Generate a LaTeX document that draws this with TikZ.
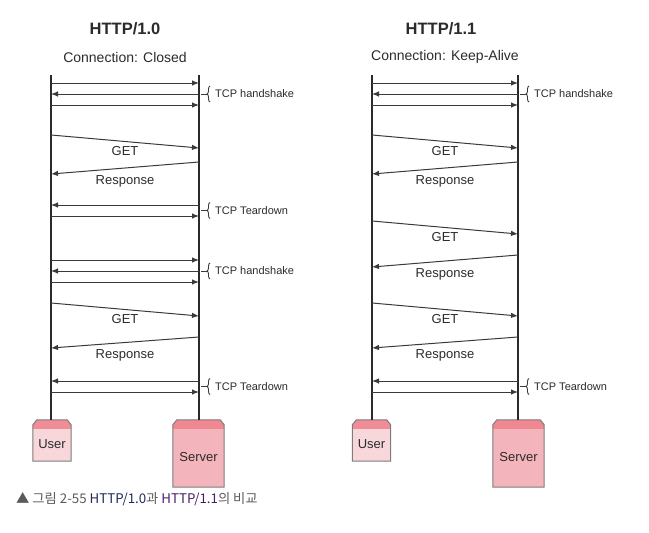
\documentclass[tikz,border=0pt]{standalone}
\usepackage{fontspec}
\setmainfont{Liberation Sans}
\newfontfamily\krfont{Noto Sans CJK KR}
\usetikzlibrary{arrows.meta,decorations.pathreplacing}

\definecolor{lifec}{HTML}{2E2826}
\definecolor{msgc}{HTML}{3A3A3A}
\definecolor{txtc}{HTML}{2B2B2B}
\definecolor{boxline}{HTML}{7C7C7C}
\definecolor{usertop}{HTML}{F08C96}
\definecolor{userbody}{HTML}{F8D7DB}
\definecolor{servtop}{HTML}{F08892}
\definecolor{servbody}{HTML}{F4B4BC}
\definecolor{capgrey}{HTML}{5A5A5A}
\definecolor{capnavy}{HTML}{1F2A5C}
\definecolor{cappurple}{HTML}{4A1D6B}

\tikzset{
  lifeline/.style={lifec,line width=2pt},
  msg/.style={msgc,line width=1pt,-{Latex[length=7pt,width=5.5pt]}},
  lbl/.style={text=txtc,font=\fontsize{13}{13}\selectfont,inner sep=3pt},
  note/.style={text=txtc,font=\fontsize{11}{11}\selectfont,inner sep=1pt,anchor=west},
  tcpbrace/.style={msgc,line width=0.9pt,decorate,decoration={brace,amplitude=3pt}},
  actor/.style={rectangle,inner sep=0pt},
  useractor/.style={actor,minimum width=38pt,minimum height=41pt},
  servactor/.style={actor,minimum width=51pt,minimum height=67pt}
}

\begin{document}
\begin{tikzpicture}[x=1pt,y=-1pt]
\useasboundingbox (0,0) rectangle (649,533);

\node[font=\bfseries\fontsize{16.5}{16.5}\selectfont,text=txtc] (titleA) at (125,29) {HTTP/1.0};
\node[font=\fontsize{14}{14}\selectfont,text=txtc] (connA) at (125,57) {Connection: Closed};
\node[font=\bfseries\fontsize{16.5}{16.5}\selectfont,text=txtc] (titleB) at (441,29) {HTTP/1.1};
\node[font=\fontsize{14}{14}\selectfont,text=txtc] (connB) at (445,57) {Connection: Keep-Alive};

\coordinate (uA) at (51,75);
\coordinate (sA) at (199,75);
\coordinate (uB) at (372,75);
\coordinate (sB) at (518,75);

\node[useractor] (userA) at (52,440.5) {};
\node[servactor] (serverA) at (198.5,453.5) {};
\node[useractor] (userB) at (371.5,440.5) {};
\node[servactor] (serverB) at (518.5,453.5) {};

\foreach \n/\c in {userA/user,serverA/serv,userB/user,serverB/serv} {
  \fill[\c body] (\n.south west) -- ([yshift=-5pt]\n.north west) -- ([xshift=4pt]\n.north west)
    -- ([xshift=-4pt]\n.north east) -- ([yshift=-5pt]\n.north east) -- (\n.south east) -- cycle;
  \fill[\c top] ([yshift=-9pt]\n.north west) -- ([yshift=-5pt]\n.north west) -- ([xshift=4pt]\n.north west)
    -- ([xshift=-4pt]\n.north east) -- ([yshift=-5pt]\n.north east) -- ([yshift=-9pt]\n.north east) -- cycle;
  \draw[boxline,line width=1pt] (\n.south west) -- ([yshift=-5pt]\n.north west) -- ([xshift=4pt]\n.north west)
    -- ([xshift=-4pt]\n.north east) -- ([yshift=-5pt]\n.north east) -- (\n.south east) -- cycle;
}
\node[lbl] (userAtxt) at ([yshift=-3.5pt]userA.center) {User};
\node[lbl] (serverAtxt) at ([yshift=-3.5pt]serverA.center) {Server};
\node[lbl] (userBtxt) at ([yshift=-3.5pt]userB.center) {User};
\node[lbl] (serverBtxt) at ([yshift=-3.5pt]serverB.center) {Server};

\draw[lifeline] (uA) -- (uA |- userA.north);
\draw[lifeline] (sA) -- (sA |- serverA.north);
\draw[lifeline] (uB) -- (uB |- userB.north);
\draw[lifeline] (sB) -- (sB |- serverB.north);

\foreach \y in {83,105,216,260,282,392} \draw[msg] (uA |- 0,\y) -- (sA |- 0,\y);
\foreach \y in {94,205,271,381} \draw[msg] (sA |- 0,\y) -- (uA |- 0,\y);
\foreach \y in {83,105,392} \draw[msg] (uB |- 0,\y) -- (sB |- 0,\y);
\foreach \y in {94,381} \draw[msg] (sB |- 0,\y) -- (uB |- 0,\y);

\draw[msg] (uA |- 0,135) -- (sA |- 0,148) node[lbl,midway,below=1pt] {GET};
\draw[msg] (sA |- 0,162) -- (uA |- 0,174) node[lbl,midway,below=4pt] {Response};
\draw[msg] (uA |- 0,303) -- (sA |- 0,316) node[lbl,midway,below=1pt] {GET};
\draw[msg] (sA |- 0,337) -- (uA |- 0,348) node[lbl,midway,below=4pt] {Response};

\foreach \a/\b in {135/148,221/234,303/316} \draw[msg] (uB |- 0,\a) -- (sB |- 0,\b) node[lbl,midway,below=1pt] {GET};
\foreach \a/\b in {162/174,255/267,337/348} \draw[msg] (sB |- 0,\a) -- (uB |- 0,\b) node[lbl,midway,below=4pt] {Response};

\node[note] (hsA1) at ([xshift=15pt]sA |- 0,94) {TCP handshake};
\node[note] (tdA1) at ([xshift=15pt]sA |- 0,210.5) {TCP Teardown};
\node[note] (hsA2) at ([xshift=15pt]sA |- 0,271) {TCP handshake};
\node[note] (tdA2) at ([xshift=15pt]sA |- 0,386.5) {TCP Teardown};
\node[note] (hsB1) at ([xshift=15pt]sB |- 0,94) {TCP handshake};
\node[note] (tdB1) at ([xshift=15pt]sB |- 0,386.5) {TCP Teardown};

\foreach \n/\l in {hsA1/sA,tdA1/sA,hsA2/sA,tdA2/sA,hsB1/sB,tdB1/sB} {
  \draw[msgc,line width=0.9pt] ([xshift=2pt]\l |- \n.west) -- ([xshift=-7pt]\n.west);
  \draw[tcpbrace] ([shift={(-4pt,-8pt)}]\n.west) -- ([shift={(-4pt,8pt)}]\n.west);
}

\node[anchor=west,inner sep=0pt,font=\krfont\fontsize{13.3}{13.3}\selectfont,text=capgrey] (caption) at (16,499)
  {▲ 그림 2-55 {\color{capnavy}HTTP/1.0}과 {\color{cappurple}HTTP/1.1}의 비교};
\end{tikzpicture}
\end{document}
